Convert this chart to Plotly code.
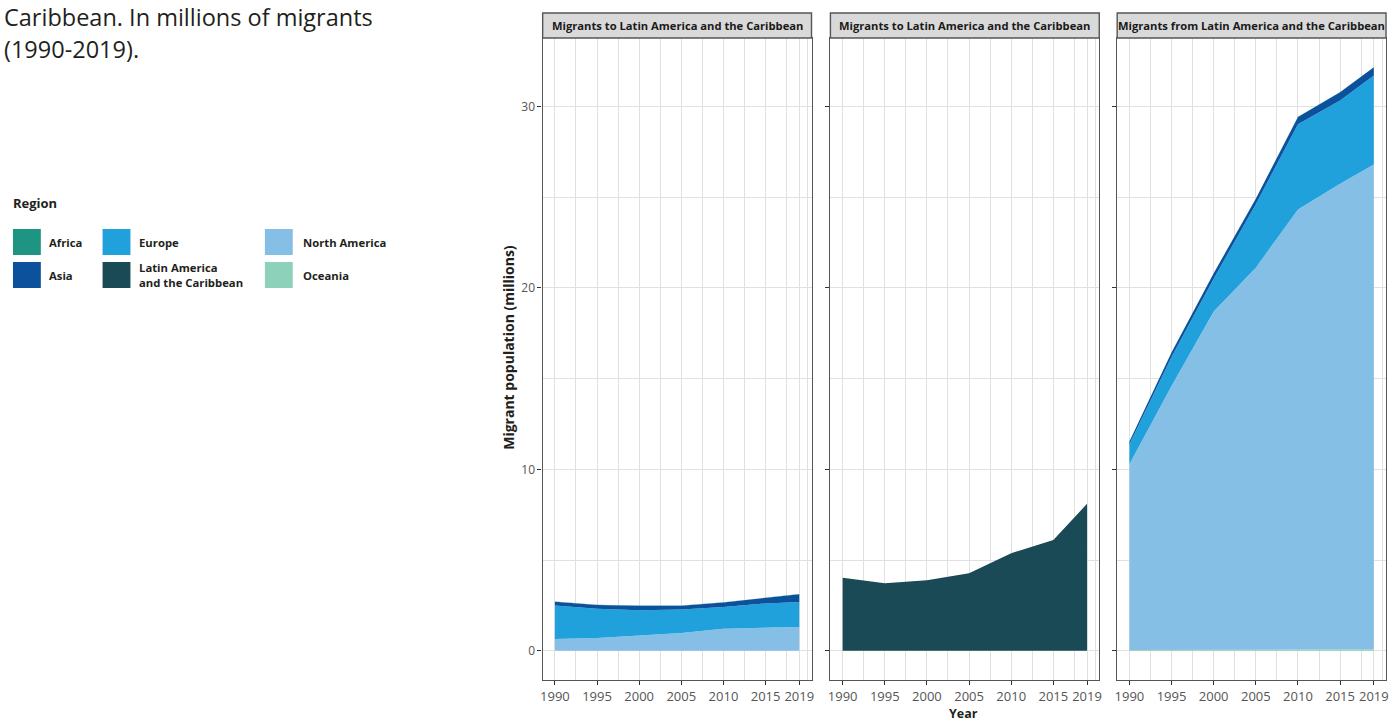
import plotly.graph_objects as go

# ---------------- data ----------------
years = [1990, 1995, 2000, 2005, 2010, 2015, 2019]
x_tick_vals = [1990, 1995, 2000, 2005, 2010, 2015, 2019]
x_minor_vals = [1992.5, 1997.5, 2002.5, 2007.5, 2012.5, 2017.5, 2020]
y_tick_vals = [0, 10, 20, 30]
y_minor_vals = [5, 15, 25]

panel_titles = [
    "Migrants to Latin America and the Caribbean",
    "Migrants to Latin America and the Caribbean",
    "Migrants from Latin America and the Caribbean",
]

regions = ["Africa", "Asia", "Europe", "Latin America\nand the Caribbean", "North America", "Oceania"]
region_colors = {
    "Africa": "#1e9583",
    "Asia": "#0b519c",
    "Europe": "#21a1dc",
    "Latin America\nand the Caribbean": "#1a4a55",
    "North America": "#86bfe6",
    "Oceania": "#8ed1bb",
}

# Panel 1: migrants to LAC from other regions (millions)
p1_oceania = [0.01, 0.01, 0.01, 0.01, 0.01, 0.01, 0.01]
p1_north_america = [0.64, 0.70, 0.83, 0.97, 1.21, 1.25, 1.30]
p1_europe = [1.85, 1.61, 1.40, 1.30, 1.19, 1.35, 1.38]
p1_asia = [0.21, 0.21, 0.25, 0.21, 0.25, 0.29, 0.43]
p1_africa = [0.01, 0.01, 0.01, 0.01, 0.01, 0.01, 0.01]

# Panel 2: migrants to LAC from within LAC
p2_latin_america = [4.02, 3.73, 3.89, 4.28, 5.38, 6.10, 8.10]

# Panel 3: migrants from LAC to other regions
p3_oceania = [0.04, 0.05, 0.05, 0.06, 0.07, 0.07, 0.08]
p3_north_america = [10.24, 14.54, 18.65, 21.05, 24.25, 25.66, 26.72]
p3_europe = [1.10, 1.60, 1.80, 3.50, 4.70, 4.60, 4.90]
p3_asia = [0.15, 0.25, 0.30, 0.30, 0.40, 0.45, 0.45]
p3_africa = [0.01, 0.01, 0.01, 0.01, 0.01, 0.01, 0.01]

panels = [
    [("Oceania", p1_oceania), ("North America", p1_north_america),
     ("Europe", p1_europe), ("Asia", p1_asia), ("Africa", p1_africa)],
    [("Latin America\nand the Caribbean", p2_latin_america)],
    [("Oceania", p3_oceania), ("North America", p3_north_america),
     ("Europe", p3_europe), ("Asia", p3_asia), ("Africa", p3_africa)],
]

# ---------------- layout geometry ----------------
W, H = 1394, 721
panel_px = [(542, 812), (831, 1101), (1119, 1389)]
plot_top_px, plot_bot_px = 38, 680
strip_top_px = 13

def px_x(p):
    return p / W

def px_y(p):
    return 1 - p / H

FONT = "Open Sans"
TXT = "#231f20"

fig = go.Figure()

for i, series in enumerate(panels):
    ax = "" if i == 0 else str(i + 1)
    for name, vals in series:
        fig.add_trace(go.Scatter(
            x=years, y=vals, mode="lines",
            stackgroup="s%d" % i,
            line=dict(width=0, color=region_colors[name]),
            fillcolor=region_colors[name],
            name=name.replace("\n", " "),
            showlegend=False, hoverinfo="x+y+name",
            xaxis="x" + ax, yaxis="y" + ax,
        ))

totals = []
for series in panels:
    for k in range(len(years)):
        totals.append(sum(v[k] for _, v in series))
ymax = max(totals)
yrange = [-0.05 * ymax, ymax * 1.05]
xspan = years[-1] - years[0]
xrange = [years[0] - 0.05 * xspan, years[-1] + 0.05 * xspan]

grid_col = "#e0e0e0"
border_col = "#555555"

layout = dict(
    width=W, height=H,
    margin=dict(l=0, r=0, t=0, b=0),
    paper_bgcolor="white", plot_bgcolor="white",
    font=dict(family=FONT, color=TXT),
    shapes=[], annotations=[],
)

for i, (l, r) in enumerate(panel_px):
    ax = "" if i == 0 else str(i + 1)
    layout["xaxis" + ax] = dict(
        domain=[px_x(l), px_x(r)], range=xrange,
        tickmode="array", tickvals=x_tick_vals, ticktext=[str(v) for v in x_tick_vals],
        ticks="outside", ticklen=4, tickwidth=1.2, tickcolor="#333333",
        tickfont=dict(size=13, color="#555555", family=FONT),
        showgrid=True, gridcolor=grid_col, gridwidth=1.4,
        minor=dict(tickmode="array", tickvals=x_minor_vals, showgrid=True,
                   gridcolor=grid_col, gridwidth=1.4, ticks=""),
        showline=True, linecolor=border_col, linewidth=1.4, mirror=True,
        zeroline=False, anchor="y" + ax, fixedrange=True,
    )
    layout["yaxis" + ax] = dict(
        domain=[px_y(plot_bot_px), px_y(plot_top_px)], range=yrange,
        tickmode="array", tickvals=y_tick_vals,
        ticks="outside", ticklen=4, tickwidth=1.2, tickcolor="#333333",
        showticklabels=(i == 0),
        tickfont=dict(size=12, color="#555555", family=FONT),
        showgrid=True, gridcolor=grid_col, gridwidth=1.4,
        minor=dict(tickmode="array", tickvals=y_minor_vals, showgrid=True,
                   gridcolor=grid_col, gridwidth=1.4, ticks=""),
        showline=True, linecolor=border_col, linewidth=1.4, mirror=True,
        zeroline=False, anchor="x" + ax, fixedrange=True,
    )
    if i > 0:
        layout["yaxis" + ax]["matches"] = "y"
    # strip header
    layout["shapes"].append(dict(
        type="rect", xref="paper", yref="paper",
        x0=px_x(l), x1=px_x(r), y0=px_y(plot_top_px), y1=px_y(strip_top_px),
        fillcolor="#d9d9d9", line=dict(color=border_col, width=1.4), layer="above",
    ))
    layout["annotations"].append(dict(
        xref="paper", yref="paper", x=px_x((l + r) / 2), y=px_y((plot_top_px + strip_top_px) / 2),
        text="<b>%s</b>" % panel_titles[i], showarrow=False,
        font=dict(size=11.2, color="#1a1a1a", family=FONT), xanchor="center", yanchor="middle",
    ))

# axis titles
layout["annotations"].append(dict(
    xref="paper", yref="paper", x=px_x(507), y=px_y(347),
    text="<b>Migrant population (millions)</b>", textangle=-90, showarrow=False,
    font=dict(size=14, color=TXT, family=FONT), xanchor="center", yanchor="middle",
))
layout["annotations"].append(dict(
    xref="paper", yref="paper", x=px_x(965), y=px_y(713),
    text="<b>Year</b>", showarrow=False,
    font=dict(size=12.5, color=TXT, family=FONT), xanchor="center", yanchor="middle",
    borderpad=0,
))

# title text (continuation lines)
title_lines = ["Caribbean. In millions of migrants", "(1990-2019)."]
for k, t in enumerate(title_lines):
    layout["annotations"].append(dict(
        xref="paper", yref="paper", x=0, y=px_y(17 + 32 * k),
        text=t, showarrow=False, font=dict(size=23.5, color=TXT, family=FONT),
        xanchor="left", yanchor="middle", borderpad=0,
    ))

# legend (drawn manually)
layout["annotations"].append(dict(
    xref="paper", yref="paper", x=px_x(8), y=px_y(203),
    text="<b>Region</b>", showarrow=False, font=dict(size=13, color=TXT, family=FONT),
    xanchor="left", yanchor="middle",
))
legend_cols = [(10, 44), (100, 135), (263, 299)]
legend_rows = [242, 275]
for idx, reg in enumerate(regions):
    c, rrow = divmod(idx, 2)
    sx, tx = legend_cols[c]
    cy = legend_rows[rrow]
    layout["shapes"].append(dict(
        type="rect", xref="paper", yref="paper",
        x0=px_x(sx), x1=px_x(sx + 28), y0=px_y(cy + 13), y1=px_y(cy - 13),
        fillcolor=region_colors[reg], line=dict(width=0),
    ))
    layout["annotations"].append(dict(
        xref="paper", yref="paper", x=px_x(tx), y=px_y(cy),
        text="<b>%s</b>" % reg.replace("\n", "<br>"), showarrow=False, align="left",
        font=dict(size=11.3, color=TXT, family=FONT), xanchor="left", yanchor="middle",
    ))

fig.update_layout(**layout)
fig.write_html("out.html")
